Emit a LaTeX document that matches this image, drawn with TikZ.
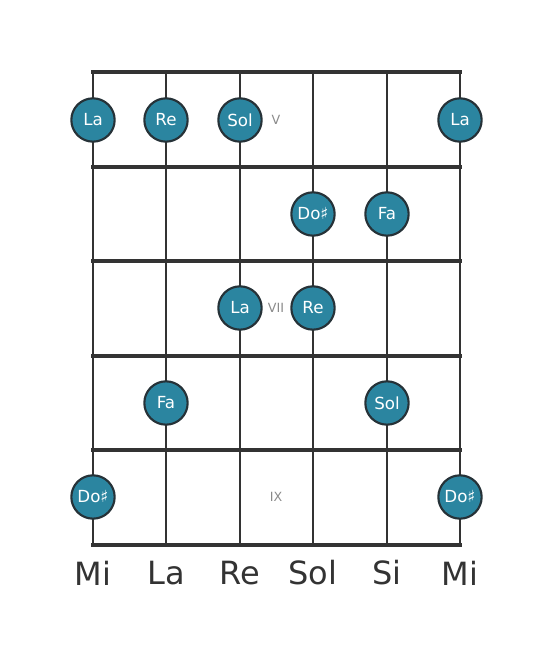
\documentclass[tikz,border=0pt]{standalone}
\usepackage{fontspec}
\setmainfont{DejaVu Sans}
\usetikzlibrary{positioning}
\definecolor{notefill}{HTML}{2B85A0}
\definecolor{notedraw}{HTML}{263238}
\definecolor{gridcol}{HTML}{333333}
\definecolor{fretnum}{HTML}{8A8A8A}

\begin{document}
\begin{tikzpicture}[x=0.75pt,y=-0.75pt,
    note/.style={circle,fill=notefill,draw=notedraw,line width=1.6pt,minimum size=32.5pt,inner sep=0pt,text=white,font=\fontsize{12.5}{12.5}\selectfont},
    fretline/.style={gridcol,line width=3.2pt},
    stringline/.style={gridcol,line width=2pt},
    fretlabel/.style={text=fretnum,font=\fontsize{9.5}{10}\selectfont},
    stringname/.style={text=gridcol,font=\fontsize{24}{24}\selectfont}]
    \useasboundingbox (0,0) rectangle (553,656);

    % strings
    \foreach \s/\x in {1/93,2/166,3/240,4/313,5/387,6/460} {
        \coordinate (S\s_top) at (\x,72);
        \coordinate (S\s_bot) at (\x,545);
        \draw[stringline] (S\s_top) -- (S\s_bot);
    }
    % frets
    \foreach \f/\y in {0/72,1/167,2/261,3/356,4/450,5/545} {
        \coordinate (F\f_l) at (93,\y);
        \coordinate (F\f_r) at (460,\y);
        \draw[fretline,line cap=rect] (F\f_l) -- (F\f_r);
    }

    % fret numbers
    \node[fretlabel] (V) at (276,120) {V};
    \node[fretlabel] (VII) at (276,308) {VII};
    \node[fretlabel] (IX) at (276,497) {IX};

    % notes
    \node[note] (N1_La) at (93,120) {La};
    \node[note] (N2_Re) at (166,120) {Re};
    \node[note] (N3_Sol) at (240,120) {Sol};
    \node[note] (N6_La) at (460,120) {La};
    \node[note] (N4_Do) at (313,214) {Do♯};
    \node[note] (N5_Fa) at (387,214) {Fa};
    \node[note] (N3_La) at (240,308) {La};
    \node[note] (N4_Re) at (313,308) {Re};
    \node[note] (N2_Fa) at (166,403) {Fa};
    \node[note] (N5_Sol) at (387,403) {Sol};
    \node[note] (N1_Do) at (93,497) {Do♯};
    \node[note] (N6_Do) at (460,497) {Do♯};

    % string names
    \node[stringname] (Mi1) at (93,573) {Mi};
    \node[stringname] (La) at (166,573) {La};
    \node[stringname] (Re) at (240,573) {Re};
    \node[stringname] (Sol) at (313,573) {Sol};
    \node[stringname] (Si) at (387,573) {Si};
    \node[stringname] (Mi6) at (460,573) {Mi};
\end{tikzpicture}
\end{document}
